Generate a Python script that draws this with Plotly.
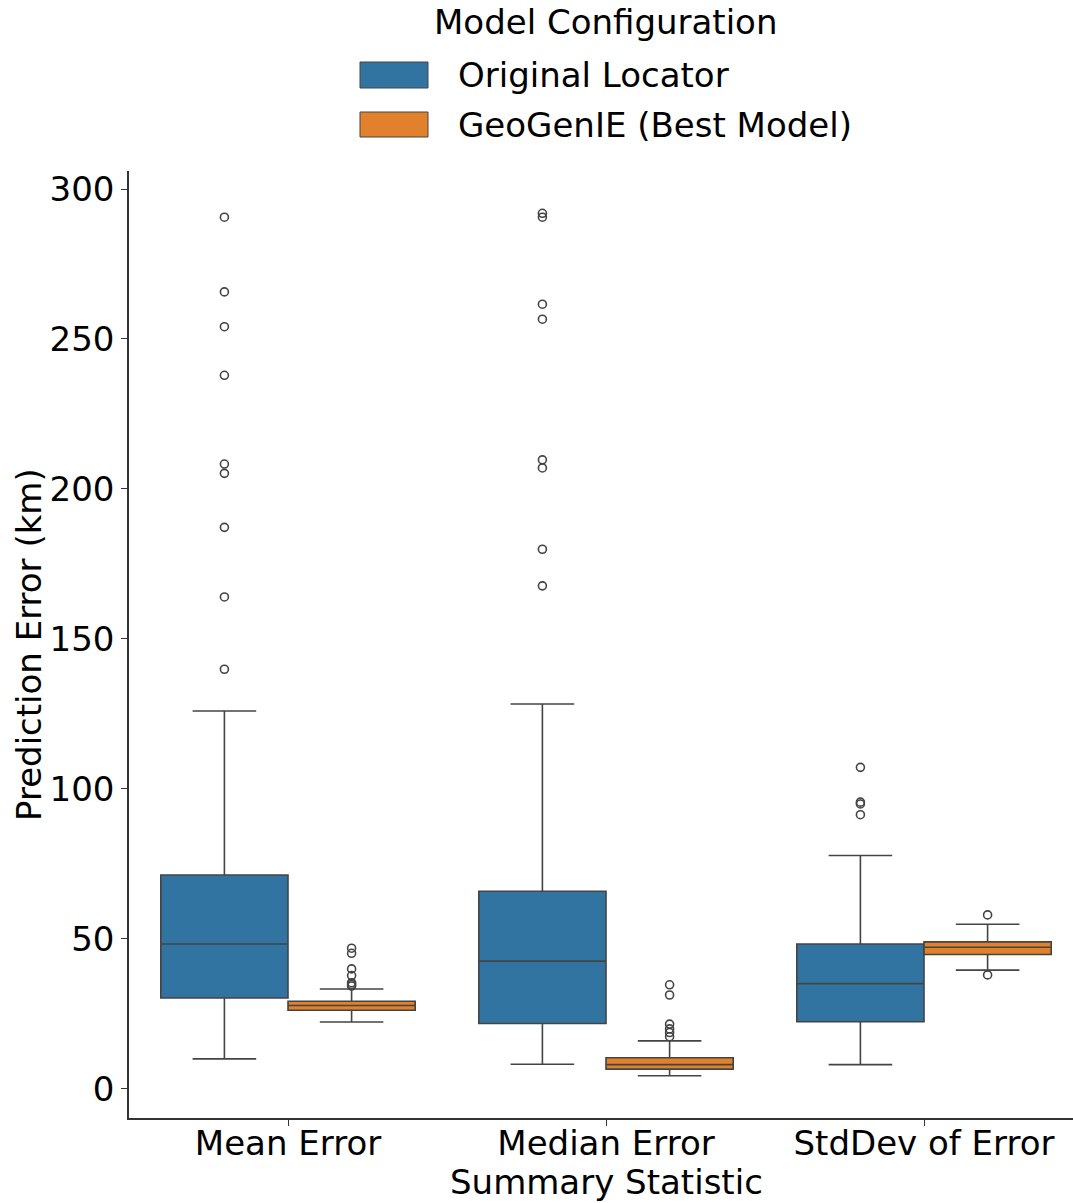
import plotly.graph_objects as go

# ---------------- data ----------------
categories = ["Mean Error", "Median Error", "StdDev of Error"]
series_names = ["Original Locator", "GeoGenIE (Best Model)"]
colors = ["#3274a1", "#e1812c"]

# box statistics per series, per category
orig_q1 = [30.3, 21.8, 22.4]
orig_median = [48.3, 42.6, 35.1]
orig_q3 = [71.3, 65.9, 48.3]
orig_lower = [10.0, 8.2, 8.1]
orig_upper = [126.0, 128.3, 77.8]
orig_outliers = [
    [290.6, 265.7, 254.1, 237.9, 208.3, 205.2, 187.2, 164.0, 139.9],
    [291.9, 290.6, 261.6, 256.6, 209.7, 207.0, 179.9, 167.7],
    [107.2, 95.6, 95.0, 91.4],
]

geo_q1 = [26.2, 6.6, 44.8]
geo_median = [27.8, 8.1, 47.2]
geo_q3 = [29.2, 10.4, 49.0]
geo_lower = [22.3, 4.4, 39.6]
geo_upper = [33.3, 16.0, 54.9]
geo_outliers = [
    [46.9, 45.2, 40.0, 37.8, 35.4, 34.8, 34.3],
    [34.7, 31.3, 21.6, 20.0, 18.8, 17.4],
    [58.0, 38.0],
]

y_ticks = [0, 50, 100, 150, 200, 250, 300]

# ---------------- figure ----------------
W, H = 1073, 1203
L, R, T, B = 129, 1073, 171, 1118  # plot area in pixels
FONT = "DejaVu Sans"
FS = 34
LINE = "#444444"

stats = [
    (orig_q1, orig_median, orig_q3, orig_lower, orig_upper, orig_outliers),
    (geo_q1, geo_median, geo_q3, geo_lower, geo_upper, geo_outliers),
]
offsets = [-0.2, 0.2]

fig = go.Figure()
for s, (q1, med, q3, lo, up, outs) in enumerate(stats):
    for i in range(len(categories)):
        xpos = i + offsets[s]
        fig.add_trace(go.Box(
            x=[xpos], q1=[q1[i]], median=[med[i]], q3=[q3[i]],
            lowerfence=[lo[i]], upperfence=[up[i]],
            width=0.4, whiskerwidth=0.5,
            fillcolor=colors[s], line=dict(color=LINE, width=1.6),
            name=series_names[s], showlegend=False, hoverinfo="y",
        ))
        fig.add_trace(go.Scatter(
            x=[xpos] * len(outs[i]), y=outs[i], mode="markers",
            marker=dict(symbol="circle-open", size=8, color=LINE,
                        line=dict(width=1.6, color=LINE)),
            showlegend=False, hoverinfo="y",
        ))

# plot-area width corresponds to 318 px per category; right edge clipped at window
px_per_cat = 318.0
x_left = -0.5
x_right = x_left + (R - L) / px_per_cat

def px2x(px):
    return (px - L) / (R - L)

def py2y(py):
    return (B - py) / (B - T)

txt_font = dict(family=FONT, size=FS, color="black")

# custom legend (seaborn style)
shapes = []
annotations = []
legend_items = [(62, 88, 75), (112, 137, 125)]
for s, (y0, y1, yc) in enumerate(legend_items):
    shapes.append(dict(type="rect", xref="paper", yref="paper",
                       x0=px2x(360), x1=px2x(428), y0=py2y(y1), y1=py2y(y0),
                       fillcolor=colors[s], line=dict(color=LINE, width=1)))
    annotations.append(dict(text=series_names[s], xref="paper", yref="paper",
                            x=px2x(456), y=py2y(yc), xanchor="left", yanchor="middle",
                            showarrow=False, font=txt_font))
annotations.append(dict(text="Model Configuration", xref="paper", yref="paper",
                        x=px2x(605), y=py2y(22), xanchor="center", yanchor="middle",
                        showarrow=False, font=txt_font))
# axis titles
annotations.append(dict(text="Summary Statistic", xref="paper", yref="paper",
                        x=px2x(606), y=py2y(1182), xanchor="center", yanchor="middle",
                        showarrow=False, font=txt_font))
annotations.append(dict(text="Prediction Error (km)", xref="paper", yref="paper",
                        x=px2x(29), y=py2y(645), xanchor="center", yanchor="middle",
                        textangle=-90, showarrow=False, font=txt_font))

fig.update_layout(
    width=W, height=H,
    margin=dict(l=L, r=W - R, t=T, b=H - B, pad=0),
    plot_bgcolor="white", paper_bgcolor="white",
    font=dict(family=FONT, size=FS, color="black"),
    shapes=shapes, annotations=annotations,
    showlegend=False,
)
fig.update_xaxes(
    range=[x_left, x_right], tickmode="array", tickvals=list(range(len(categories))),
    ticktext=categories, showgrid=False, zeroline=False, automargin=False,
    showline=True, linecolor="#333333", linewidth=1.5,
    ticks="outside", ticklen=6, tickwidth=1.3, tickcolor="#333333",
    tickfont=txt_font, ticklabelstandoff=-12,
)
fig.update_yaxes(
    range=[-9.7, 306], tickmode="array", tickvals=y_ticks,
    showgrid=False, zeroline=False, automargin=False,
    showline=True, linecolor="#333333", linewidth=1.5,
    ticks="outside", ticklen=6, tickwidth=1.3, tickcolor="#333333",
    tickfont=txt_font,
)

fig.write_html(
    "out.html",
    config={"displayModeBar": False},
    post_script="document.body.style.margin='0';document.body.style.overflow='hidden';",
)
